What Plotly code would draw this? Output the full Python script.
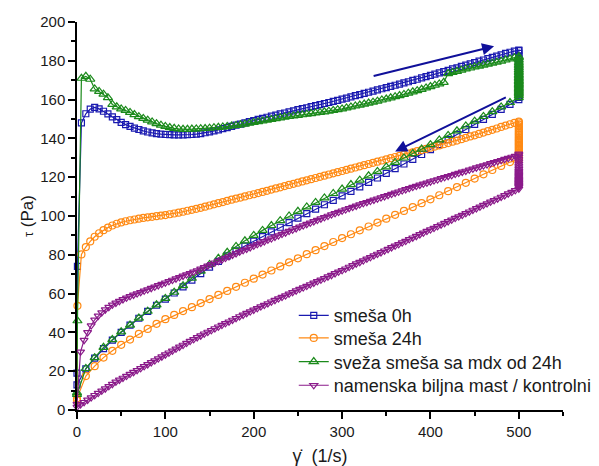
import plotly.graph_objects as go

# Shear-rate steps (1/s) of the ramps
SHEAR_UP = [0, 0.5,
            5, 10, 15, 20, 25, 30, 35, 40, 45, 50,
            55, 60, 65, 70, 75, 80, 85, 90, 95, 100,
            105, 110, 115, 120, 125, 130, 135, 140, 145, 150,
            155, 160, 165, 170, 175, 180, 185, 190, 195, 200,
            205, 210, 215, 220, 225, 230, 235, 240, 245, 250,
            255, 260, 265, 270, 275, 280, 285, 290, 295, 300,
            305, 310, 315, 320, 325, 330, 335, 340, 345, 350,
            355, 360, 365, 370, 375, 380, 385, 390, 395, 400,
            405, 410, 415, 420, 425, 430, 435, 440, 445, 450,
            455, 460, 465, 470, 475, 480, 485, 490, 495, 500]

SHEAR_DOWN = [500, 490, 480, 470, 460, 450, 440, 430, 420, 410,
              400, 390, 380, 370, 360, 350, 340, 330, 320, 310,
              300, 290, 280, 270, 260, 250, 240, 230, 220, 210,
              200, 190, 180, 170, 160, 150, 140, 130, 120, 110,
              100, 90, 80, 70, 60, 50, 40, 30, 20, 10,
              0]

SHEAR_UP_FINE = [0, 4, 8, 12, 16, 20, 24, 28, 32, 36,
                 40, 44, 48, 52, 56, 60, 64, 68, 72, 76,
                 80, 84, 88, 92, 96, 100, 104, 108, 112, 116,
                 120, 124, 128, 132, 136, 140, 144, 148, 152, 156,
                 160, 164, 168, 172, 176, 180, 184, 188, 192, 196,
                 200, 204, 208, 212, 216, 220, 224, 228, 232, 236,
                 240, 244, 248, 252, 256, 260, 264, 268, 272, 276,
                 280, 284, 288, 292, 296, 300, 304, 308, 312, 316,
                 320, 324, 328, 332, 336, 340, 344, 348, 352, 356,
                 360, 364, 368, 372, 376, 380, 384, 388, 392, 396,
                 400, 404, 408, 412, 416, 420, 424, 428, 432, 436,
                 440, 444, 448, 452, 456, 460, 464, 468, 472, 476,
                 480, 484, 488, 492, 496, 500]
SHEAR_DOWN_FINE = SHEAR_UP_FINE[::-1]

HOLD_RATE = 500

# smeša 0h
TAU_0H_UP = [19.0, 74.0,
             148.0, 152.7, 155.1, 156.0, 155.2, 154.0, 152.6, 151.1, 149.7, 148.3,
             147.1, 146.2, 145.3, 144.6, 143.9, 143.3, 142.8, 142.5, 142.2, 142.0,
             141.9, 141.8, 141.8, 141.8, 141.9, 142.0, 142.2, 142.5, 142.9, 143.4,
             143.9, 144.4, 145.0, 145.6, 146.2, 146.8, 147.4, 148.0, 148.6, 149.2,
             149.8, 150.3, 150.9, 151.5, 152.0, 152.6, 153.1, 153.7, 154.2, 154.8,
             155.3, 155.8, 156.4, 156.9, 157.4, 158.0, 158.5, 159.1, 159.6, 160.2,
             160.8, 161.4, 162.0, 162.6, 163.2, 163.8, 164.4, 165.0, 165.6, 166.2,
             166.8, 167.4, 168.0, 168.6, 169.2, 169.9, 170.5, 171.2, 171.8, 172.5,
             173.1, 173.8, 174.4, 175.1, 175.8, 176.4, 177.1, 177.8, 178.4, 179.1,
             179.8, 180.4, 181.1, 181.8, 182.4, 183.1, 183.8, 184.4, 185.0, 185.5]
TAU_0H_HOLD = [185.2, 183.8, 182.5, 181.2, 180.0, 178.9, 177.8, 176.7, 175.7, 174.7,
               173.7, 172.8, 171.9, 171.0, 170.1, 169.2, 168.4, 167.6, 166.7, 165.9,
               165.1, 164.3, 163.5, 162.7, 161.9, 161.1]
TAU_0H_DOWN = [160.0, 157.5, 155.0, 152.4, 149.8, 147.2, 144.6, 142.0, 139.4, 136.8,
               134.2, 131.7, 129.2, 126.8, 124.4, 122.0, 119.6, 117.3, 115.0, 112.7,
               110.4, 108.1, 105.8, 103.5, 101.2, 98.9, 96.6, 94.2, 91.8, 89.4,
               87.0, 84.5, 82.0, 79.4, 76.6, 73.6, 70.3, 66.9, 63.5, 60.3,
               57.2, 54.0, 50.8, 47.3, 43.7, 40.0, 36.0, 31.6, 26.7, 21.2,
               13.0]

# smeša 24h
TAU_24H_UP = [5.0, 53.7,
              80.2, 84.0, 86.9, 89.3, 91.1, 92.7, 94.0, 95.1, 96.0, 96.7,
              97.3, 97.8, 98.2, 98.6, 99.0, 99.3, 99.6, 99.9, 100.2, 100.5,
              100.9, 101.3, 101.7, 102.2, 102.7, 103.2, 103.7, 104.2, 104.8, 105.4,
              106.0, 106.6, 107.2, 107.8, 108.4, 109.0, 109.5, 110.1, 110.7, 111.2,
              111.8, 112.4, 113.0, 113.6, 114.2, 114.8, 115.4, 116.0, 116.6, 117.2,
              117.8, 118.4, 119.0, 119.6, 120.2, 120.8, 121.4, 122.0, 122.6, 123.2,
              123.8, 124.4, 125.0, 125.6, 126.2, 126.8, 127.4, 128.0, 128.6, 129.2,
              129.8, 130.4, 131.0, 131.6, 132.2, 132.8, 133.4, 134.0, 134.6, 135.2,
              135.8, 136.4, 137.0, 137.6, 138.3, 138.9, 139.6, 140.3, 141.0, 141.6,
              142.3, 143.0, 143.7, 144.4, 145.1, 145.9, 146.6, 147.3, 148.0, 148.7]
TAU_24H_HOLD = [148.3, 147.2, 146.2, 145.3, 144.4, 143.5, 142.7, 141.9, 141.1, 140.3,
                139.6, 138.9, 138.2, 137.5, 136.8, 136.1, 135.4, 134.7, 134.0, 133.3,
                132.6, 131.9, 131.2, 130.5, 129.8]
TAU_24H_DOWN = [129.0, 127.8, 125.8, 123.7, 121.5, 119.3, 117.1, 114.9, 112.8, 110.7,
                108.6, 106.6, 104.6, 102.6, 100.6, 98.6, 96.6, 94.6, 92.6, 90.6,
                88.6, 86.6, 84.5, 82.4, 80.3, 78.2, 76.1, 74.0, 71.9, 69.8,
                67.7, 65.6, 63.5, 61.4, 59.3, 57.2, 55.1, 53.0, 51.0, 49.0,
                46.8, 44.4, 41.8, 39.2, 36.3, 33.6, 30.5, 27.0, 22.6, 17.5,
                6.0]

# sveža smeša sa mdx od 24h
TAU_MDX_UP = [9.0, 46.0,
              171.0, 172.0, 170.5, 165.5, 164.2, 162.8, 161.0, 157.5, 156.3, 155.2,
              154.4, 153.4, 152.3, 151.2, 150.3, 149.4, 148.5, 147.6, 146.8, 146.2,
              145.6, 145.2, 144.9, 144.7, 144.7, 144.8, 144.9, 145.0, 145.1, 145.3,
              145.5, 145.7, 145.9, 146.1, 146.4, 146.7, 147.0, 147.4, 147.8, 148.2,
              148.6, 149.0, 149.4, 149.8, 150.2, 150.6, 151.0, 151.3, 151.6, 151.9,
              152.2, 152.5, 152.8, 153.1, 153.4, 153.7, 154.0, 154.4, 154.8, 155.2,
              155.7, 156.2, 156.7, 157.2, 157.7, 158.2, 158.7, 159.2, 159.8, 160.3,
              160.9, 161.5, 162.1, 162.7, 163.3, 164.0, 164.6, 165.3, 166.0, 166.7,
              167.4, 168.1, 168.9, 173.4, 174.0, 174.6, 175.2, 175.8, 176.3, 176.8,
              177.3, 177.8, 178.3, 178.8, 179.3, 179.8, 180.4, 181.0, 181.6, 182.2]
TAU_MDX_HOLD = [181.5, 180.3, 179.2, 178.2, 177.2, 176.3, 175.4, 174.5, 173.7, 172.9,
                172.1, 171.3, 170.5, 169.8, 169.1, 168.4, 167.7, 167.0, 166.3, 165.6,
                164.9, 164.2, 163.5, 162.8, 162.1]
TAU_MDX_DOWN = [161.0, 158.5, 156.2, 153.8, 151.3, 148.9, 146.4, 143.9, 141.5, 139.2,
                136.8, 134.5, 132.2, 129.9, 127.6, 125.3, 123.0, 120.7, 118.5, 116.2,
                113.9, 111.6, 109.3, 107.0, 104.7, 102.4, 100.0, 97.6, 95.1, 92.6,
                90.0, 87.2, 84.3, 81.3, 78.2, 75.0, 71.6, 67.9, 64.1, 60.7,
                57.5, 54.2, 50.9, 47.4, 43.8, 40.3, 36.3, 32.3, 27.0, 21.4,
                8.0]

# namenska biljna mast / kontrolni
TAU_CTRL_UP = [3.0, 30.0, 36.0, 40.0, 43.5, 46.5, 48.5, 50.2, 51.7, 53.0,
               54.2, 55.2, 56.1, 57.0, 57.8, 58.6, 59.3, 60.0, 60.7, 61.4,
               62.1, 62.8, 63.5, 64.2, 64.9, 65.6, 66.3, 67.0, 67.7, 68.4,
               69.1, 69.8, 70.5, 71.2, 71.9, 72.7, 73.5, 74.3, 75.1, 75.9,
               76.7, 77.5, 78.3, 79.1, 79.9, 80.7, 81.5, 82.3, 83.0, 83.8,
               84.6, 85.4, 86.1, 86.9, 87.7, 88.4, 89.2, 89.9, 90.7, 91.4,
               92.2, 92.9, 93.6, 94.4, 95.1, 95.8, 96.5, 97.2, 97.9, 98.6,
               99.3, 100.0, 100.7, 101.4, 102.0, 102.7, 103.3, 104.0, 104.6, 105.2,
               105.9, 106.5, 107.1, 107.7, 108.3, 108.9, 109.5, 110.1, 110.7, 111.3,
               111.9, 112.5, 113.1, 113.7, 114.3, 114.9, 115.4, 116.0, 116.6, 117.1,
               117.7, 118.3, 118.8, 119.4, 119.9, 120.5, 121.0, 121.6, 122.1, 122.7,
               123.2, 123.8, 124.3, 124.9, 125.4, 126.0, 126.5, 127.1, 127.6, 128.2,
               128.7, 129.3, 129.8, 130.4, 130.9, 131.5]
TAU_CTRL_HOLD = [132.0, 130.5, 129.2, 128.0, 126.9, 125.9, 125.0, 124.1, 123.3, 122.5,
                 121.8, 121.1, 120.5, 119.9, 119.3, 118.8, 118.3, 117.8, 117.3, 116.9,
                 116.5, 116.1, 115.7, 115.3, 114.9]
TAU_CTRL_DOWN = [114.0, 113.2, 112.3, 111.5, 110.6, 109.8, 108.9, 108.1, 107.3, 106.4,
                 105.6, 104.7, 103.9, 103.1, 102.2, 101.4, 100.5, 99.7, 98.9, 98.0,
                 97.2, 96.3, 95.5, 94.7, 93.8, 93.0, 92.2, 91.3, 90.5, 89.6,
                 88.8, 88.0, 87.1, 86.3, 85.4, 84.6, 83.8, 82.9, 82.1, 81.2,
                 80.4, 79.6, 78.7, 77.9, 77.0, 76.2, 75.4, 74.5, 73.7, 72.8,
                 72.0, 71.2, 70.4, 69.5, 68.7, 67.9, 67.1, 66.3, 65.5, 64.7,
                 63.9, 63.1, 62.3, 61.5, 60.7, 59.9, 59.0, 58.2, 57.4, 56.6,
                 55.8, 54.9, 54.1, 53.3, 52.4, 51.6, 50.7, 49.9, 49.0, 48.2,
                 47.3, 46.4, 45.5, 44.7, 43.8, 42.9, 42.0, 41.1, 40.2, 39.3,
                 38.3, 37.4, 36.4, 35.5, 34.5, 33.5, 32.5, 31.5, 30.5, 29.5,
                 28.5, 27.5, 26.5, 25.5, 24.5, 23.5, 22.5, 21.5, 20.5, 19.5,
                 18.5, 17.5, 16.5, 15.5, 14.5, 13.3, 12.2, 11.0, 9.9, 8.7,
                 7.6, 6.4, 5.2, 4.0, 2.8, 1.5]

SERIES = [
    ("smeša 0h", "#1a1ab0", "square-open", 6,
     SHEAR_UP, TAU_0H_UP, TAU_0H_HOLD, SHEAR_DOWN, TAU_0H_DOWN),
    ("smeša 24h", "#ff8a14", "circle-open", 7,
     SHEAR_UP, TAU_24H_UP, TAU_24H_HOLD, SHEAR_DOWN, TAU_24H_DOWN),
    ("sveža smeša sa mdx od 24h", "#1b8a1b", "triangle-up-open", 8,
     SHEAR_UP, TAU_MDX_UP, TAU_MDX_HOLD, SHEAR_DOWN, TAU_MDX_DOWN),
    ("namenska biljna mast / kontrolni", "#8a1a8a", "triangle-down-open", 7,
     SHEAR_UP_FINE, TAU_CTRL_UP, TAU_CTRL_HOLD, SHEAR_DOWN_FINE, TAU_CTRL_DOWN),
]

FONT = "Liberation Sans, Arial, sans-serif"

# one single-entry legend per series, stacked in the lower right
LEGEND_IDS = ["legend", "legend2", "legend3", "legend4"]
LEGEND_Y = [0.243, 0.185, 0.124, 0.063]

fig = go.Figure()
for (name, color, symbol, size, x_up, y_up, y_hold, x_down, y_down), leg in zip(SERIES, LEGEND_IDS):
    x = list(x_up) + [HOLD_RATE] * len(y_hold) + list(x_down)
    y = list(y_up) + list(y_hold) + list(y_down)
    fig.add_trace(go.Scatter(
        x=x, y=y, name=name, mode="lines+markers",
        line=dict(color=color, width=1.2),
        marker=dict(symbol=symbol, size=size, color=color, line=dict(width=1.2, color=color)),
        cliponaxis=False, legend=leg,
    ))

# direction arrows: ramp up / ramp down
ARROWS = [((334, 172.0), (472, 187.5)), ((487, 161.5), (360, 133.3))]
for (x0, y0), (x1, y1) in ARROWS:
    fig.add_annotation(x=x1, y=y1, ax=x0, ay=y0, xref="x", yref="y", axref="x", ayref="y",
                       text="", showarrow=True, arrowhead=2, arrowsize=1.2, arrowwidth=2,
                       arrowcolor="#10109a")

axis_common = dict(
    showline=True, linecolor="black", linewidth=1.5, mirror=False,
    ticks="outside", ticklen=7, tickwidth=1.5, tickcolor="black",
    showgrid=False, zeroline=False, automargin=False,
    tickfont=dict(family=FONT, size=15, color="#1a1a1a"),
)

legend_common = dict(x=0.446, xanchor="left", yanchor="middle", bgcolor="rgba(0,0,0,0)",
                     font=dict(family=FONT, size=18, color="#1a1a1a"), itemwidth=30)
legends = {lid: dict(y=ly, **legend_common) for lid, ly in zip(LEGEND_IDS, LEGEND_Y)}

fig.update_layout(
    width=599, height=466,
    margin=dict(l=77, r=36, t=22, b=56, pad=0, autoexpand=False),
    paper_bgcolor="white", plot_bgcolor="white",
    font=dict(family=FONT, color="#1a1a1a"),
    showlegend=True,
    xaxis=dict(range=[0, 550], tick0=0, dtick=100,
               minor=dict(dtick=50, ticks="outside", ticklen=4, tickwidth=1.5, tickcolor="black"),
               title=dict(text="γ̇  (1/s)", font=dict(family=FONT, size=18), standoff=12),
               **axis_common),
    yaxis=dict(range=[0, 200], tick0=0, dtick=20,
               minor=dict(dtick=10, ticks="outside", ticklen=4, tickwidth=1.5, tickcolor="black"),
               title=dict(text="<span style='font-size:13px'>τ</span> (Pa)",
                          font=dict(family=FONT, size=17), standoff=2),
               **axis_common),
    **legends,
)

fig.write_html("out.html")
